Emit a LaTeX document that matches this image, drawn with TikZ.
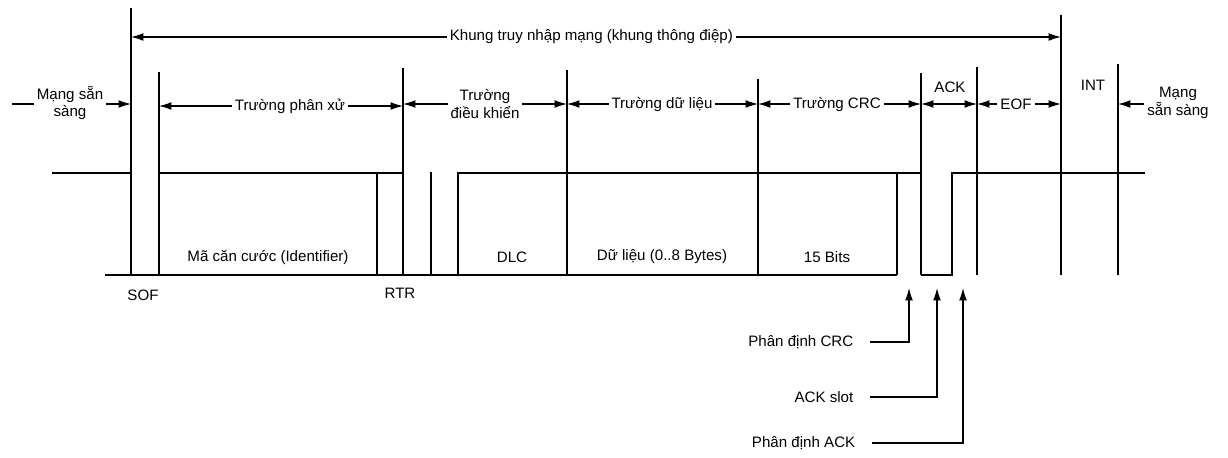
\documentclass[tikz,border=0pt]{standalone}
\usepackage{fontspec}
\setmainfont{Liberation Sans}
\usetikzlibrary{arrows.meta,positioning}

\begin{document}
\begin{tikzpicture}[x=0.02cm,y=-0.02cm,
    sig/.style={line width=0.9pt},
    bnd/.style={line width=0.8pt},
    dimarr/.style={line width=0.7pt,-{Latex[length=7pt,width=4.4pt]}},
    dimboth/.style={line width=0.7pt,{Latex[length=7pt,width=4.4pt]}-{Latex[length=7pt,width=4.4pt]}},
    lbl/.style={font=\fontsize{8.6}{10}\selectfont,inner sep=1.5pt,align=center},
    ptr/.style={lbl,anchor=east,outer xsep=8pt}]
  \useasboundingbox (0,0) rectangle (1228,457);

  % --- field boundaries (name/x/top) ---
  \foreach \n/\x/\t in {sofL/131/8, sofR/159/72, rtrE/403/68, ctlE/567/70,
      datE/758/79, crcE/921/73, ackE/977/67, eofE/1061/15, intE/1118/64}{
    \coordinate (\n) at (\x,\t);
    \draw[bnd] (\n) -- (\x,275);
  }

  % --- signal ---
  \draw[sig] (52,173) -- (sofL |- 0,173);
  \draw[sig] (sofR |- 0,173) -- (rtrE |- 0,173);
  \draw[sig] (105,275) -- (897,275);
  \draw[sig] (377,173) -- (377,275);
  \draw[sig] (431,172) -- (431,275);
  \draw[sig] (458,275) -- (458,173) -- (crcE |- 0,173);
  \draw[sig] (897,173) -- (897,275);
  \draw[sig] (crcE |- 0,275) -- (952,275) -- (952,173) -- (1145,173);

  % --- whole frame ---
  \draw[dimboth] (sofL |- 0,37) -- (eofE |- 0,37)
    node[lbl,fill=white,pos=0.495] (frame) {Khung truy nhập mạng (khung thông điệp)};

  % --- fields ---
  \node[lbl] (idleL) at (70,103) {Mạng sẵn\\sàng};
  \draw[line width=0.7pt] (12,104) -- (idleL.west |- 0,104);
  \draw[dimarr] (idleL.east |- 0,104) -- (sofL |- 0,104);

  \node[lbl] (arb) at (290,106) {Trường phân xử};
  \draw[dimarr] (arb.west) -- (arb.west -| sofR);
  \draw[dimarr] (arb.east) -- (arb.east -| rtrE);

  \node[lbl] (ctl) at (485,104) {Trường\\điều khiển};
  \draw[dimarr] (ctl.west |- 0,104) -- (rtrE |- 0,104);
  \draw[dimarr] (ctl.east |- 0,104) -- (ctlE |- 0,104);

  \node[lbl] (dat) at (662,104) {Trường dữ liệu};
  \draw[dimarr] (dat.west) -- (dat.west -| ctlE);
  \draw[dimarr] (dat.east) -- (dat.east -| datE);

  \node[lbl] (crc) at (837,104) {Trường CRC};
  \draw[dimarr] (crc.west) -- (crc.west -| datE);
  \draw[dimarr] (crc.east) -- (crc.east -| crcE);

  \node[lbl] (ack) at (950,87) {ACK};
  \draw[dimboth] (crcE |- 0,104) -- (ackE |- 0,104);

  \node[lbl] (eof) at (1016,104) {EOF};
  \draw[dimarr] (eof.west) -- (eof.west -| ackE);
  \draw[dimarr] (eof.east) -- (eof.east -| eofE);

  \node[lbl] (int) at (1093,85) {INT};

  \node[lbl] (idleR) at (1178,103) {Mạng\\sẵn sàng};
  \draw[dimarr] (idleR.west |- 0,104) -- (intE |- 0,104);

  % --- bit contents ---
  \node[lbl] (ident) at (268,257) {Mã căn cước (Identifier)};
  \node[lbl] (dlc) at (512,257) {DLC};
  \node[lbl] (bytes) at (662,257) {Dữ liệu (0..8 Bytes)};
  \node[lbl] (bits) at (827,257) {15 Bits};
  \node[lbl] (sof) at (143,295) {SOF};
  \node[lbl] (rtr) at (400,293) {RTR};

  % --- delimiters / slot ---
  \coordinate (m1) at (909,288);
  \coordinate (m2) at (937,288);
  \coordinate (m3) at (963,288);
  \node[ptr] (pcrc) at (870,342) {Phân định CRC};
  \node[ptr] (aslot) at (870,397) {ACK slot};
  \node[ptr] (pack) at (872,443) {Phân định ACK};
  \draw[dimarr] (pcrc.east) -| (m1);
  \draw[dimarr] (aslot.east) -| (m2);
  \draw[dimarr] (pack.east) -| (m3);
\end{tikzpicture}
\end{document}
